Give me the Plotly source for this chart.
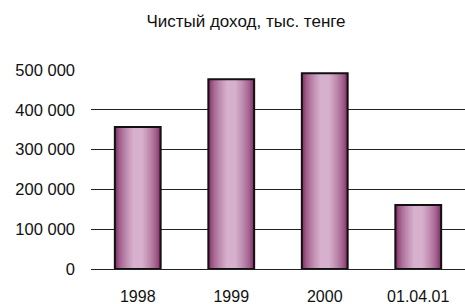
import plotly.graph_objects as go

categories = ["1998", "1999", "2000", "01.04.01"]
values = [357000, 477000, 492000, 161000]
y_ticks = [0, 100000, 200000, 300000, 400000, 500000]
y_tick_labels = ["0", "100 000", "200 000", "300 000", "400 000", "500 000"]
title_text = "Чистый доход, тыс. тенге"

BAR_W = 0.49
dark = (125, 38, 95)
light = (214, 176, 204)
N = 14

fig = go.Figure()
for i in range(N):
    t = i / (N - 1)
    w = BAR_W * (1 - 0.78 * t)
    f = t ** 0.6
    c = tuple(int(dark[k] + (light[k] - dark[k]) * f) for k in range(3))
    fig.add_trace(go.Bar(
        x=categories, y=values, width=[w] * len(categories),
        marker=dict(color="rgb(%d,%d,%d)" % c, line=dict(width=0)),
        hoverinfo="skip", showlegend=False,
    ))
fig.add_trace(go.Bar(
    x=categories, y=values, width=[BAR_W] * len(categories),
    marker=dict(color="rgba(0,0,0,0)", line=dict(color="#111111", width=2)),
    showlegend=False,
))

fig.update_layout(
    width=465, height=304,
    margin=dict(l=91, r=0, t=70, b=35, autoexpand=False),
    barmode="overlay",
    plot_bgcolor="white", paper_bgcolor="white",
    font=dict(family="Liberation Sans, Arial, sans-serif", size=16, color="#111111"),
    title=dict(text=title_text, x=0.529, xanchor="center", y=0.93, yanchor="middle",
               font=dict(size=17, color="#111111")),
)
fig.update_xaxes(
    type="category", range=[-0.5, 3.5], showgrid=False, showline=False,
    ticks="", ticklabelstandoff=16, zeroline=False, automargin=False,
)
fig.update_yaxes(
    range=[0, 500000], tickvals=y_ticks, ticktext=y_tick_labels,
    showgrid=True, gridcolor="#222222", gridwidth=1, zeroline=True,
    zerolinecolor="#222222", zerolinewidth=1, showline=False, ticks="",
    ticklabelstandoff=15, automargin=False, tickfont=dict(size=16.5),
)

fig.write_html("out.html", config={"displayModeBar": False},
               post_script="document.body.style.margin='0';document.body.style.padding='0';")
